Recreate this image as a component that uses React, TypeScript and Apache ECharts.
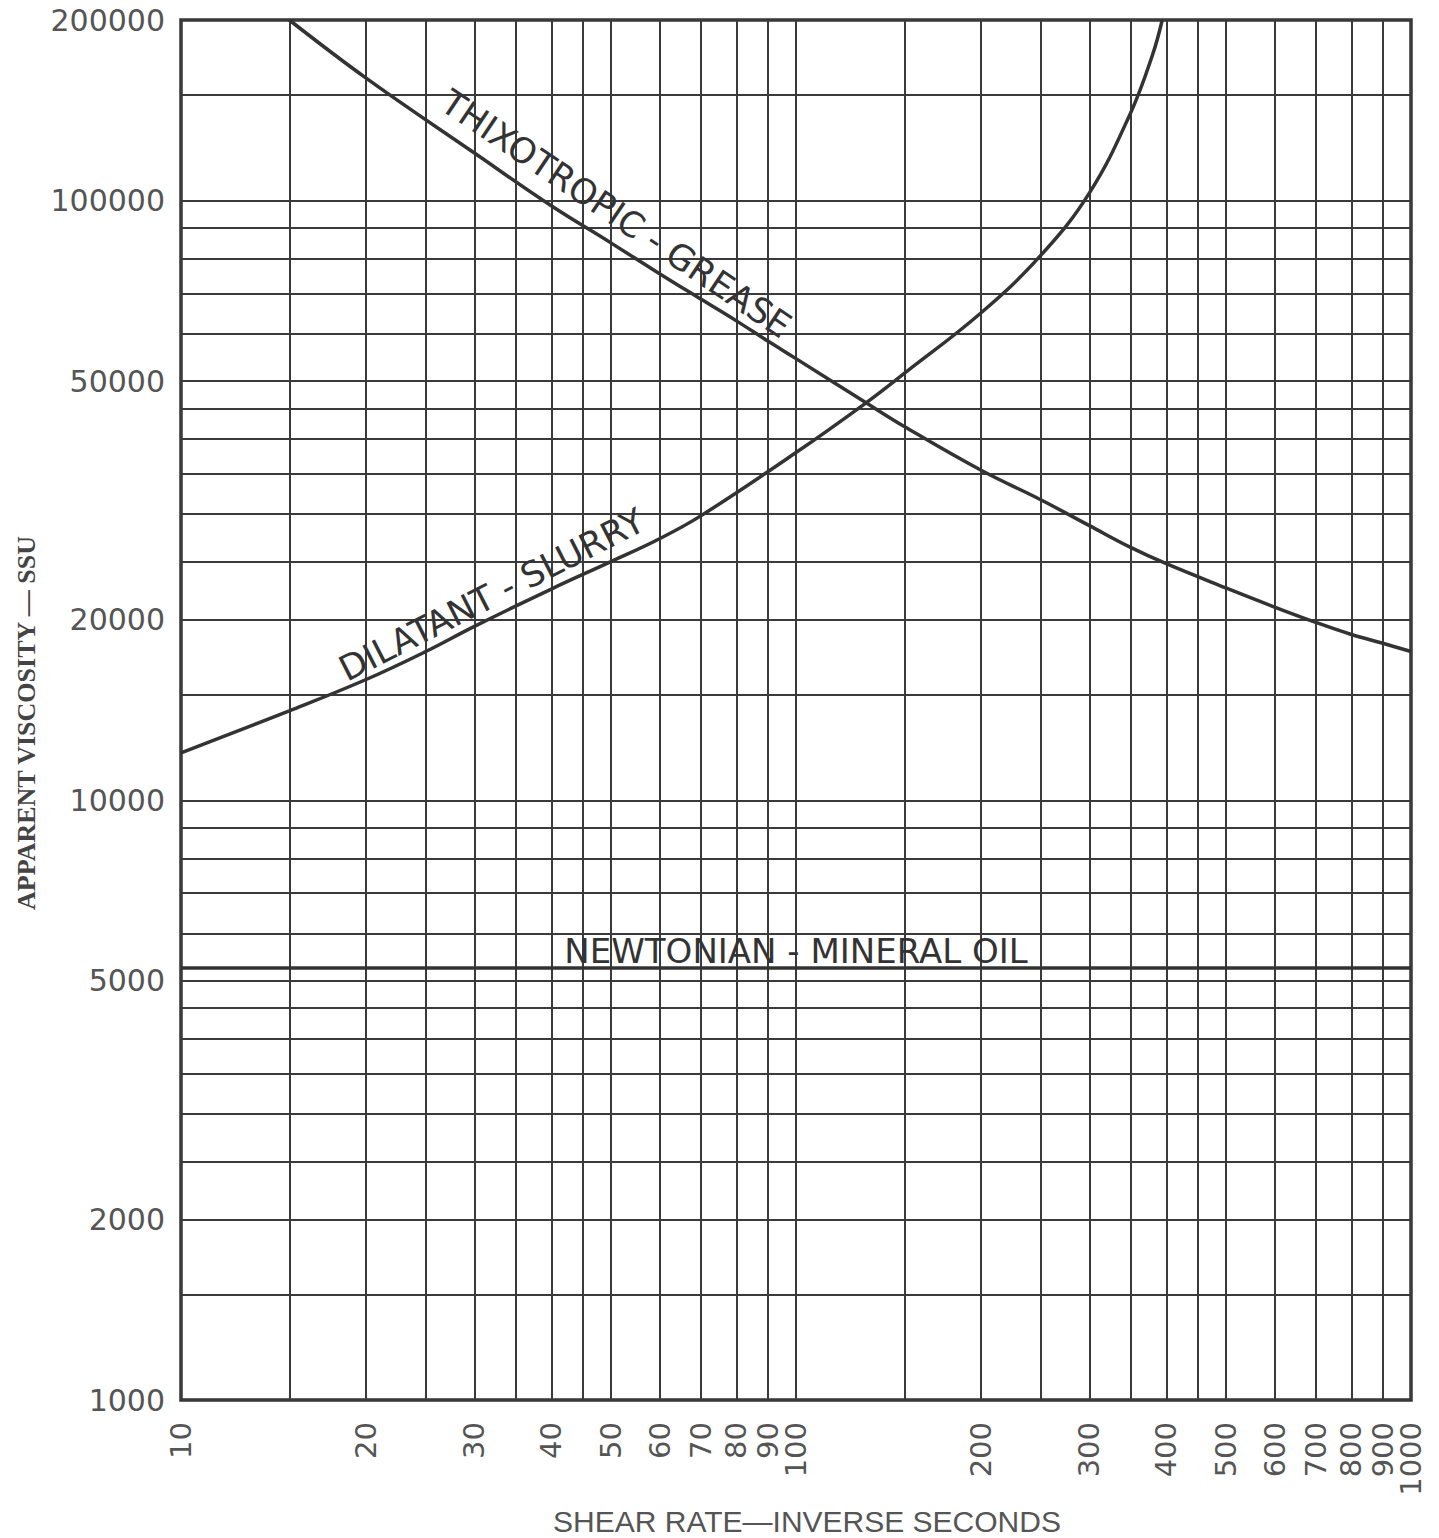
import React, { useEffect, useRef } from "react";
import * as echarts from "echarts";

// Axis tick labels and grid rulings (log-log paper)
const xLabelValues = [10, 20, 30, 40, 50, 60, 70, 80, 90, 100, 200, 300, 400, 500, 600, 700, 800, 900, 1000];
const xGridValues = [10, 15, 20, 25, 30, 35, 40, 45, 50, 60, 70, 80, 90, 100, 150, 200, 250, 300, 350, 400, 450, 500, 600, 700, 800, 900, 1000];
const yLabelValues = [1000, 2000, 5000, 10000, 20000, 50000, 100000, 200000];
const yGridValues = [1000, 1500, 2000, 2500, 3000, 3500, 4000, 4500, 5000, 6000, 7000, 8000, 9000, 10000, 15000, 20000, 25000, 30000, 35000, 40000, 45000, 50000, 60000, 70000, 80000, 90000, 100000, 150000, 200000];

// Thixotropic - grease
const thixoShear = [15, 20, 30, 40, 50, 60, 70, 80, 90, 100, 130, 150, 200, 250, 300, 350, 400, 500, 600, 700, 800, 900, 1000];
const thixoVisc = [200000, 160000, 120000, 98000, 85000, 75500, 68500, 63000, 58300, 54500, 46000, 42000, 35500, 31700, 28700, 26400, 24800, 22600, 21000, 19800, 18900, 18270, 17700];

// Dilatant - slurry
const dilatShear = [10, 15, 20, 25, 30, 40, 50, 60, 70, 100, 130, 150, 200, 250, 300, 350, 380, 394];
const dilatVisc = [12000, 14100, 15900, 17700, 19500, 22500, 25000, 27300, 29800, 38000, 46000, 51500, 65000, 81000, 103000, 140000, 175000, 200000];

// Newtonian - mineral oil
const newtShear = [10, 1000];
const newtVisc = [5250, 5250];

const curveLabels = [
  { text: "THIXOTROPIC - GREASE", at: [51, 95000], angle: -34, size: 35 },
  { text: "DILATANT - SLURRY", at: [32, 22000], angle: 27, size: 35 },
  { text: "NEWTONIAN - MINERAL OIL", at: [100, 5600], angle: 0, size: 34 },
];

const pairs = (xs: number[], ys: number[]) => xs.map((x, i) => [x, ys[i]]);

export default function App() {
  const ref = useRef<HTMLDivElement>(null);
  useEffect(() => {
    const el = ref.current!;
    const chart = echarts.init(el, null, { renderer: "svg" });
    const labelFont = "DejaVu Sans";
    const lineCol = "#333";
    const gridCol = "#3a3a3a";
    const curveStyle = { color: lineCol, width: 3.5 };
    const xLabelStyle = {
      rotate: 90,
      margin: 22,
      interval: 0,
      showMinLabel: true,
      showMaxLabel: true,
      hideOverlap: false,
      fontFamily: labelFont,
      fontSize: 29,
      color: "#555",
      formatter: (v: number) => String(Math.round(v)),
    };
    const option: any = {
      animation: false,
      backgroundColor: "#fff",
      grid: {
        left: 181,
        right: 28,
        top: 20,
        bottom: 138,
        show: true,
        borderColor: lineCol,
        borderWidth: 3.5,
        containLabel: false,
        outerBoundsMode: "none",
      },
      xAxis: [
        {
          type: "log",
          logBase: 10,
          min: 10,
          max: 1000,
          position: "bottom",
          name: "SHEAR RATE\u2014INVERSE SECONDS",
          nameLocation: "middle",
          nameGap: 106,
          nameTextStyle: { fontFamily: "Liberation Sans", fontSize: 30, color: "#555", padding: [0, 0, 0, 22] },
          axisLine: { show: false },
          axisTick: { show: false, customValues: xGridValues },
          splitLine: { show: true, lineStyle: { color: gridCol, width: 2 } },
          minorSplitLine: { show: false },
          axisLabel: { ...xLabelStyle, customValues: xLabelValues.slice(0, -1) },
        },
        {
          type: "log",
          logBase: 10,
          min: 10,
          max: 1000,
          position: "bottom",
          offset: 0,
          axisLine: { show: false },
          axisTick: { show: false },
          splitLine: { show: false },
          axisLabel: { ...xLabelStyle, customValues: xLabelValues.slice(-1) },
        },
      ],
      yAxis: {
        type: "log",
        logBase: 10,
        min: 1000,
        max: 200000,
        name: "APPARENT VISCOSITY \u2014 SSU",
        nameLocation: "middle",
        nameGap: 141,
        nameRotate: 90,
        nameTextStyle: {
          fontFamily: "Liberation Serif",
          fontWeight: "bold",
          fontSize: 26,
          color: "#444",
          padding: [0, 26, 0, 0],
        },
        axisLine: { show: false },
        axisTick: { show: false, customValues: yGridValues },
        splitLine: { show: true, lineStyle: { color: gridCol, width: 2 } },
        axisLabel: {
          customValues: yLabelValues,
          margin: 16,
          showMinLabel: true,
          showMaxLabel: true,
          fontFamily: labelFont,
          fontSize: 30,
          color: "#555",
          formatter: (v: number) => String(Math.round(v)),
        },
      },
      series: [
        {
          name: "Thixotropic - grease",
          type: "line",
          xAxisIndex: 0,
          data: pairs(thixoShear, thixoVisc),
          showSymbol: false,
          smooth: 0.4,
          lineStyle: curveStyle,
          silent: true,
        },
        {
          name: "Dilatant - slurry",
          type: "line",
          xAxisIndex: 0,
          data: pairs(dilatShear, dilatVisc),
          showSymbol: false,
          smooth: 0.4,
          lineStyle: curveStyle,
          silent: true,
        },
        {
          name: "Newtonian - mineral oil",
          type: "line",
          xAxisIndex: 0,
          data: pairs(newtShear, newtVisc),
          showSymbol: false,
          lineStyle: curveStyle,
          silent: true,
        },
      ],
    };
    chart.setOption(option);
    const graphics = curveLabels.map((l) => {
      const p = chart.convertToPixel({ xAxisIndex: 0, yAxisIndex: 0 }, l.at) as number[];
      return {
        type: "text",
        x: p[0],
        y: p[1],
        rotation: (l.angle * Math.PI) / 180,
        silent: true,
        z: 10,
        style: {
          text: l.text,
          fontSize: l.size,
          fontFamily: labelFont,
          fill: "#333",
          align: "center",
          verticalAlign: "middle",
        },
      };
    });
    chart.setOption({ graphic: graphics });
    return () => chart.dispose();
  }, []);
  return (
    <div
      ref={ref}
      style={{ position: "absolute", left: 0, top: 0, width: 1439, height: 1538, background: "#fff" }}
    />
  );
}
